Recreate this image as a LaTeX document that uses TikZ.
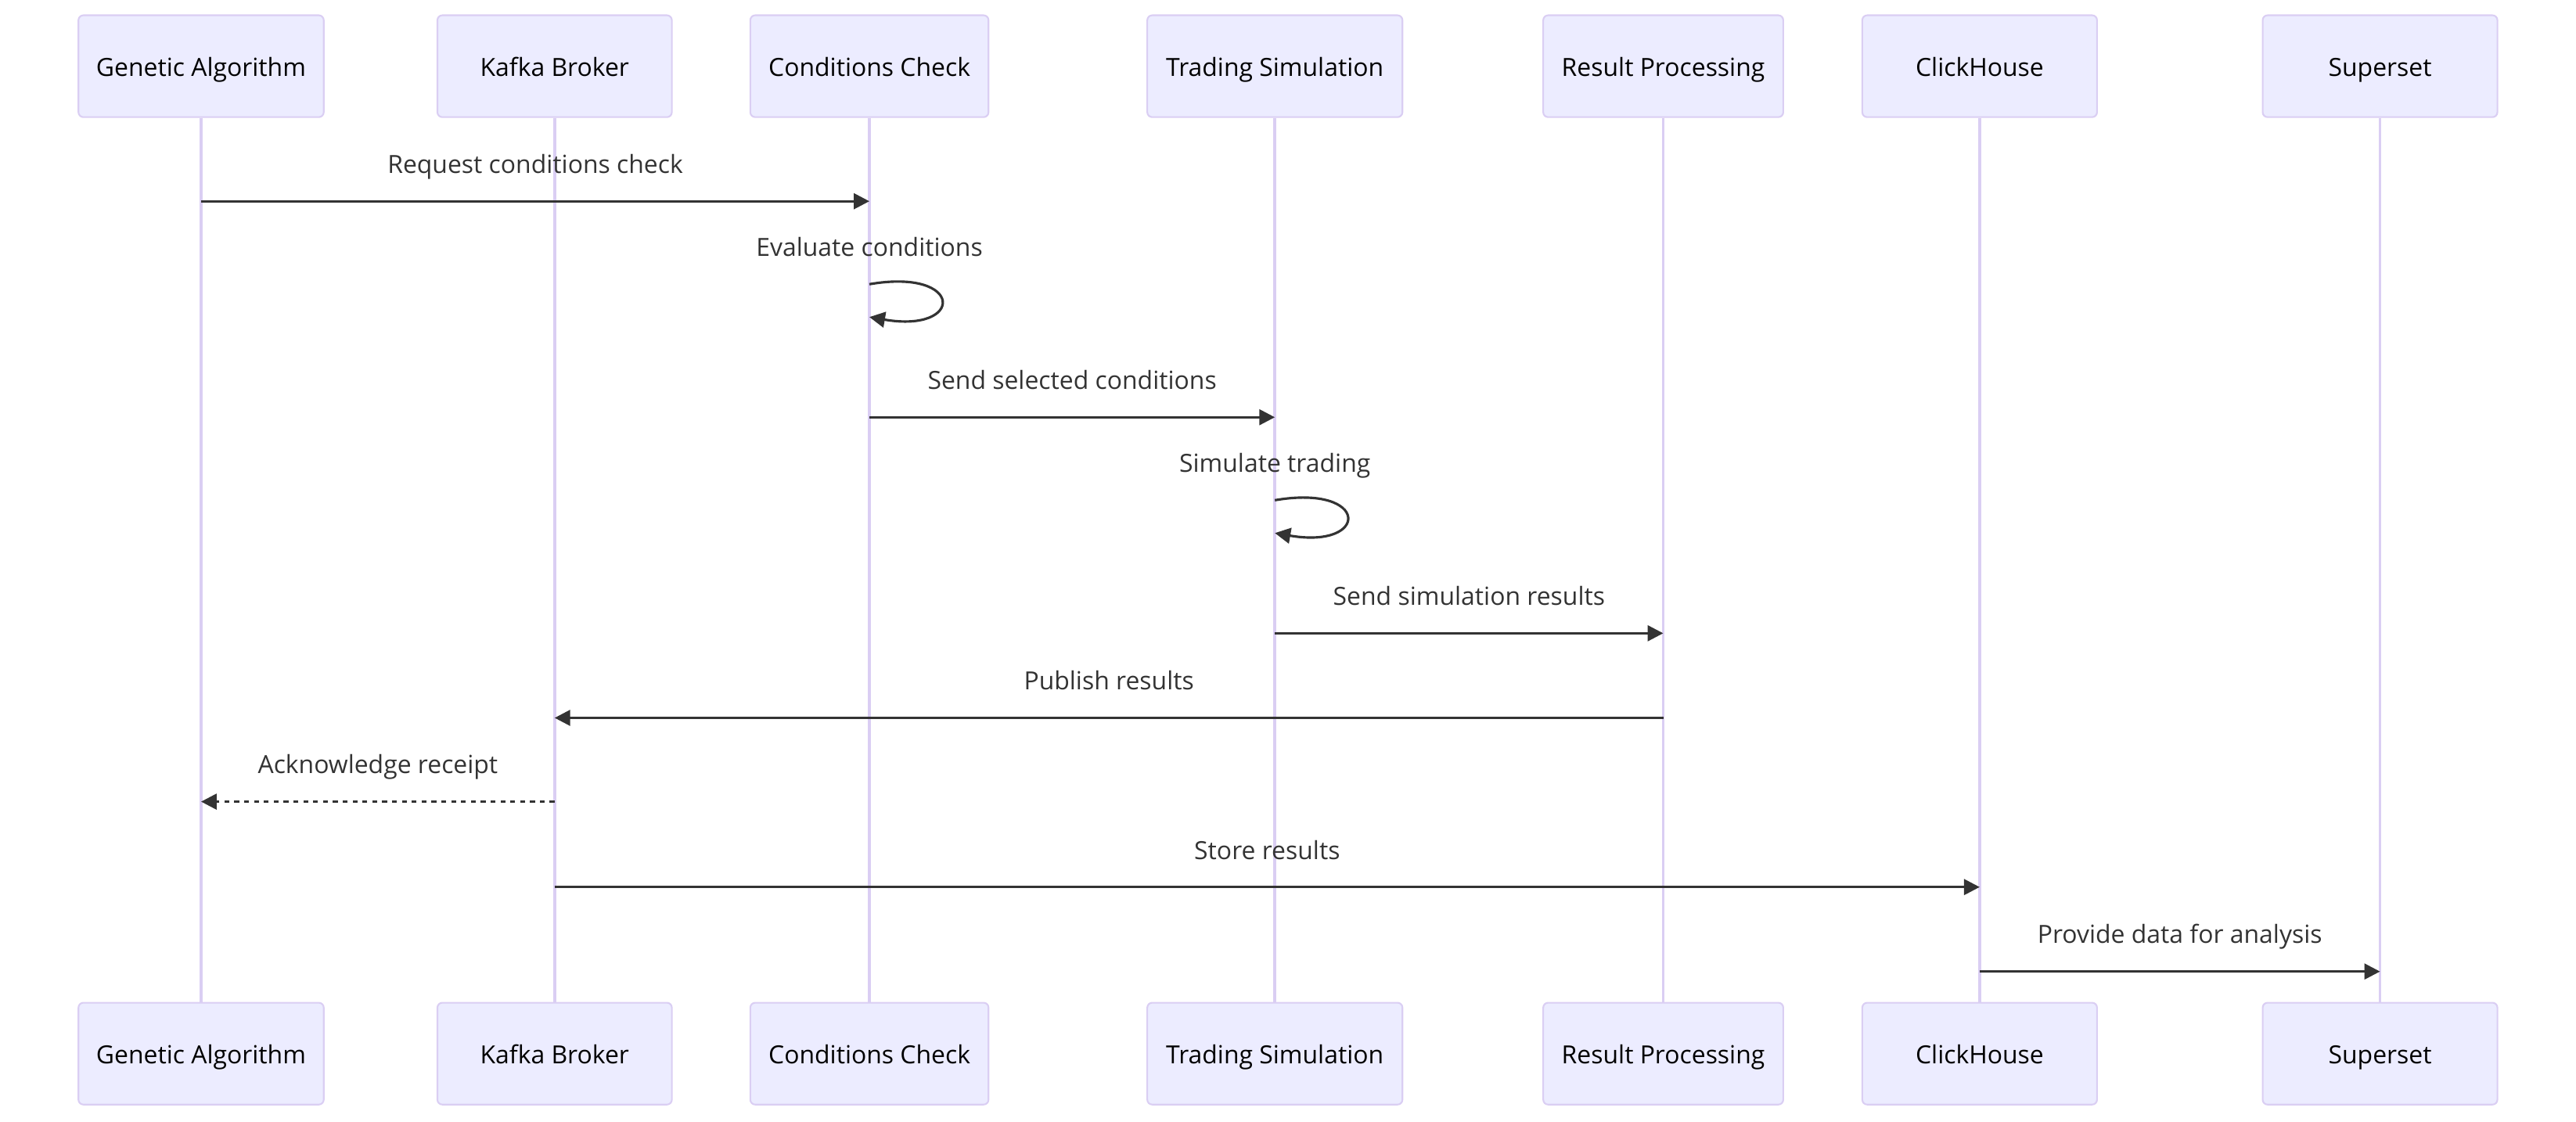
\documentclass[tikz,border=0pt]{standalone}
\usepackage{fontspec}
\setmainfont{Open Sans}
\usetikzlibrary{arrows.meta}
\definecolor{actfill}{HTML}{ECECFF}
\definecolor{actborder}{HTML}{DACEF3}
\definecolor{msgcol}{HTML}{333333}
\tikzset{
  actor/.style={draw=actborder, fill=actfill, line width=1pt, rounded corners=3pt,
    minimum height=62pt, inner sep=0pt, text=black, text height=12pt, text depth=0pt,
    font=\fontsize{15.2}{18}\selectfont},
  lifeline/.style={draw=actborder, line width=1.8pt},
  msg/.style={draw=msgcol, line width=1.5pt, -{Triangle[length=9.5pt,width=9.5pt]}},
  dotmsg/.style={msg, dash pattern=on 3pt off 3pt},
  lbl/.style={text=msgcol, font=\fontsize{15.2}{18}\selectfont, inner sep=0pt, anchor=base},
}
\begin{document}
\begin{tikzpicture}[x=1pt,y=-1pt]
\useasboundingbox (0,0) rectangle (1568,683);
% top actors
\node[actor, minimum width=149.3pt] (ga) at (122.4,40.3) {Genetic Algorithm};
\node[actor, minimum width=142.7pt] (kb) at (337.6,40.3) {Kafka Broker};
\node[actor, minimum width=145pt]   (cc) at (529.2,40.3) {Conditions Check};
\node[actor, minimum width=155.3pt] (ts) at (776,40.3) {Trading Simulation};
\node[actor, minimum width=146.1pt] (rp) at (1012.4,40.3) {Result Processing};
\node[actor, minimum width=142.9pt] (ch) at (1205,40.3) {ClickHouse};
\node[actor, minimum width=142.9pt] (ss) at (1448.7,40.3) {Superset};
% bottom actors
\node[actor, minimum width=149.3pt] (ga2) at (122.4,641.4) {Genetic Algorithm};
\node[actor, minimum width=142.7pt] (kb2) at (337.6,641.4) {Kafka Broker};
\node[actor, minimum width=145pt]   (cc2) at (529.2,641.4) {Conditions Check};
\node[actor, minimum width=155.3pt] (ts2) at (776,641.4) {Trading Simulation};
\node[actor, minimum width=146.1pt] (rp2) at (1012.4,641.4) {Result Processing};
\node[actor, minimum width=142.9pt] (ch2) at (1205,641.4) {ClickHouse};
\node[actor, minimum width=142.9pt] (ss2) at (1448.7,641.4) {Superset};
% lifelines
\foreach \a in {ga,kb,cc,ts,rp,ch,ss}{
  \draw[lifeline] (\a.south) -- (\a2.north);
}
% message rows
\coordinate (y1) at (0,122.5);
\coordinate (y2) at (0,173);
\coordinate (y3) at (0,254);
\coordinate (y4) at (0,304.5);
\coordinate (y5) at (0,385.5);
\coordinate (y6) at (0,437);
\coordinate (y7) at (0,488);
\coordinate (y8) at (0,540);
\coordinate (y9) at (0,591.4);
% messages
\draw[msg] (ga |- y1) -- node[lbl, midway, yshift=17pt] {Request conditions check} (cc |- y1);
\coordinate (l1) at (cc |- y2);
\node[lbl] at ([yshift=17pt]l1) {Evaluate conditions};
\draw[msg] (l1) .. controls ++(58,-10) and ++(58,10) .. ([yshift=-20pt]l1);
\draw[msg] (cc |- y3) -- node[lbl, midway, yshift=17pt] {Send selected conditions} (ts |- y3);
\coordinate (l2) at (ts |- y4);
\node[lbl] at ([yshift=17pt]l2) {Simulate trading};
\draw[msg] (l2) .. controls ++(58,-10) and ++(58,10) .. ([yshift=-20pt]l2);
\draw[msg] (ts |- y5) -- node[lbl, midway, yshift=17pt] {Send simulation results} (rp |- y5);
\draw[msg] (rp |- y6) -- node[lbl, midway, yshift=17pt] {Publish results} (kb |- y6);
\draw[dotmsg] (kb |- y7) -- node[lbl, midway, yshift=17pt] {Acknowledge receipt} (ga |- y7);
\draw[msg] (kb |- y8) -- node[lbl, midway, yshift=17pt] {Store results} (ch |- y8);
\draw[msg] (ch |- y9) -- node[lbl, midway, yshift=17pt] {Provide data for analysis} (ss |- y9);
\end{tikzpicture}
\end{document}
